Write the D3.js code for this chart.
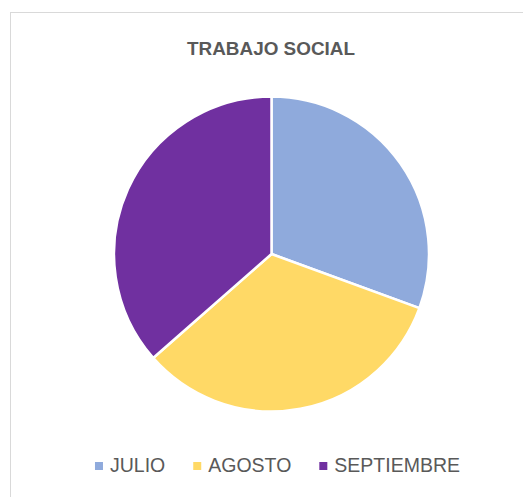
<!DOCTYPE html>
<html lang="en">
<head>
<meta charset="utf-8">
<title>Trabajo Social</title>
<script src="https://cdn.jsdelivr.net/npm/d3@7"></script>
<style>
  html, body { margin: 0; padding: 0; background: #fff; }
  body { font-family: "Liberation Sans", Arial, sans-serif; }
</style>
</head>
<body>
<script>
const months = ["JULIO", "AGOSTO", "SEPTIEMBRE"];
const counts = [26, 28, 31];
const colors = ["#8FAADC", "#FFD966", "#7030A0"];

const w = 523, h = 497;
const cx = 271.5, cy = 254, r = 157.5;

const svg = d3.select("body").append("svg")
  .attr("width", w)
  .attr("height", h);

// chart frame (only left and top edges fall inside the picture)
svg.append("rect")
  .attr("x", 10.5).attr("y", 12.5)
  .attr("width", 700).attr("height", 700)
  .attr("fill", "#fff")
  .attr("stroke", "#d9d9d9");

svg.append("text")
  .attr("x", 271)
  .attr("y", 55)
  .attr("text-anchor", "middle")
  .attr("font-size", "18.9px")
  .attr("font-weight", "bold")
  .attr("fill", "#595959")
  .text("TRABAJO SOCIAL");

const color = d3.scaleOrdinal(months, colors);
const pie = d3.pie().sort(null).value((d, i) => counts[i]);
const arc = d3.arc().innerRadius(0).outerRadius(r);

svg.append("g")
  .attr("transform", `translate(${cx},${cy})`)
  .selectAll("path")
  .data(pie(months))
  .join("path")
  .attr("d", arc)
  .attr("fill", d => color(d.data))
  .attr("stroke", "#fff")
  .attr("stroke-width", 2.5)
  .attr("stroke-linejoin", "round");

// legend
const legend = svg.append("g");
const items = legend.selectAll("g")
  .data(months)
  .join("g");
items.append("rect")
  .attr("width", 8).attr("height", 8)
  .attr("y", -10)
  .attr("fill", d => color(d));
items.append("text")
  .attr("x", 15)
  .attr("font-size", "19.5px")
  .attr("fill", "#595959")
  .text(d => d);

let xpos = 0;
items.each(function () {
  const g = d3.select(this);
  g.attr("transform", `translate(${xpos},0)`);
  xpos += 15 + g.select("text").node().getComputedTextLength() + 28;
});
const legendW = xpos - 28;
legend.attr("transform", `translate(${277.5 - legendW / 2},472)`);
</script>
</body>
</html>
